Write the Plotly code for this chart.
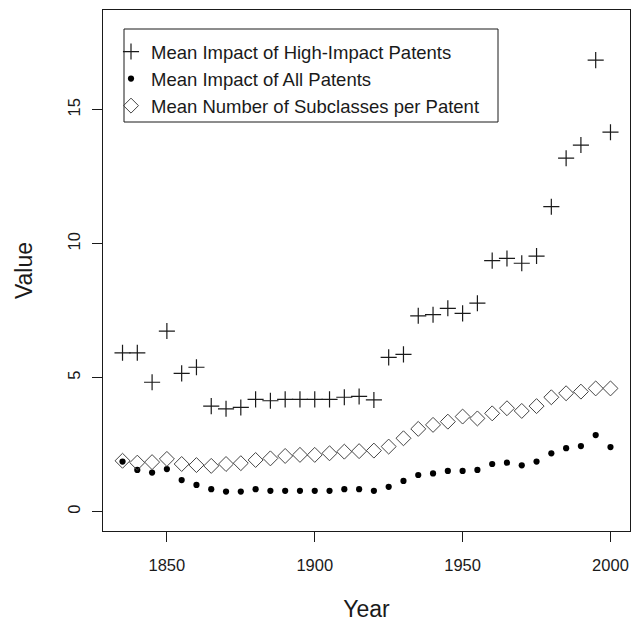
import plotly.graph_objects as go

years = list(range(1835, 2001, 5))

high_impact = [5.93, 5.93, 4.83, 6.74, 5.16, 5.39, 3.94, 3.84, 3.89, 4.19,
               4.14, 4.19, 4.19, 4.19, 4.19, 4.27, 4.30, 4.17, 5.76, 5.87,
               7.31, 7.35, 7.59, 7.40, 7.78, 9.37, 9.45, 9.27, 9.54, 11.38,
               13.19, 13.68, 16.85, 14.16]

all_patents = [1.87, 1.56, 1.46, 1.59, 1.18, 1.00, 0.84, 0.75, 0.75, 0.84,
               0.78, 0.78, 0.78, 0.78, 0.78, 0.84, 0.84, 0.78, 0.93, 1.15,
               1.37, 1.43, 1.52, 1.52, 1.56, 1.78, 1.83, 1.73, 1.87, 2.18,
               2.37, 2.45, 2.86, 2.41]

subclasses = [1.90, 1.83, 1.85, 1.97, 1.78, 1.74, 1.71, 1.78, 1.81, 1.93,
              1.99, 2.08, 2.12, 2.12, 2.18, 2.24, 2.26, 2.28, 2.43, 2.74,
              3.09, 3.24, 3.36, 3.55, 3.48, 3.67, 3.86, 3.76, 3.94, 4.27,
              4.42, 4.48, 4.60, 4.60]

x_ticks = [1850, 1900, 1950, 2000]
y_ticks = [0, 5, 10, 15]

names = ["Mean Impact of High-Impact Patents",
         "Mean Impact of All Patents",
         "Mean Number of Subclasses per Patent"]

FONT = "Liberation Sans, Arial, sans-serif"
INK = "#1a1a1a"

fig = go.Figure()
fig.add_trace(go.Scatter(
    x=years, y=high_impact, mode="markers", name=names[0],
    marker=dict(symbol="cross-thin-open", size=11.5, color=INK,
                line=dict(color=INK, width=1.2))))
fig.add_trace(go.Scatter(
    x=years, y=all_patents, mode="markers", name=names[1],
    marker=dict(symbol="circle", size=6.2, color="black",
                line=dict(width=0))))
fig.add_trace(go.Scatter(
    x=years, y=subclasses, mode="markers", name=names[2],
    marker=dict(symbol="diamond-open", size=11.5, color="#444",
                line=dict(color="#444", width=1))))

L, R, T, B = 103, 2, 10, 91
W, H = 632, 622
pw, ph = W - L - R, H - T - B


def px2paper_x(px):
    return (px - L) / pw


def px2paper_y(py):
    return 1 - (py - T) / ph


fig.add_shape(type="rect", xref="paper", yref="paper",
              x0=px2paper_x(124), x1=px2paper_x(498),
              y0=px2paper_y(122), y1=px2paper_y(29),
              line=dict(color=INK, width=1), fillcolor="rgba(0,0,0,0)")

fig.update_layout(
    width=W, height=H,
    margin=dict(l=L, r=R, t=T, b=B, pad=0),
    paper_bgcolor="white", plot_bgcolor="white",
    font=dict(family=FONT, color=INK),
    showlegend=True,
    legend=dict(x=px2paper_x(111), y=px2paper_y(33), xanchor="left", yanchor="top",
                bgcolor="rgba(0,0,0,0)", borderwidth=0,
                font=dict(family=FONT, size=18.5, color=INK),
                tracegroupgap=0),
    xaxis=dict(range=[1828.4, 2006.6], tickvals=x_ticks, ticks="outside",
               ticklen=10, tickwidth=1, tickcolor=INK,
               showline=True, linecolor=INK, linewidth=1, mirror=True,
               showgrid=False, zeroline=False,
               tickfont=dict(family=FONT, size=16.5, color=INK),
               ticklabelstandoff=9,
               title=dict(text="Year", font=dict(family=FONT, size=23, color=INK),
                          standoff=29)),
    yaxis=dict(range=[-0.72, 18.72], tickvals=y_ticks, ticks="outside",
               ticklen=10, tickwidth=1, tickcolor=INK, tickangle=-90,
               showline=True, linecolor=INK, linewidth=1, mirror=True,
               showgrid=False, zeroline=False,
               tickfont=dict(family=FONT, size=16.5, color=INK),
               ticklabelstandoff=5,
               title=dict(text="Value", font=dict(family=FONT, size=23, color=INK),
                          standoff=26)),
)

fig.write_html("out.html")
